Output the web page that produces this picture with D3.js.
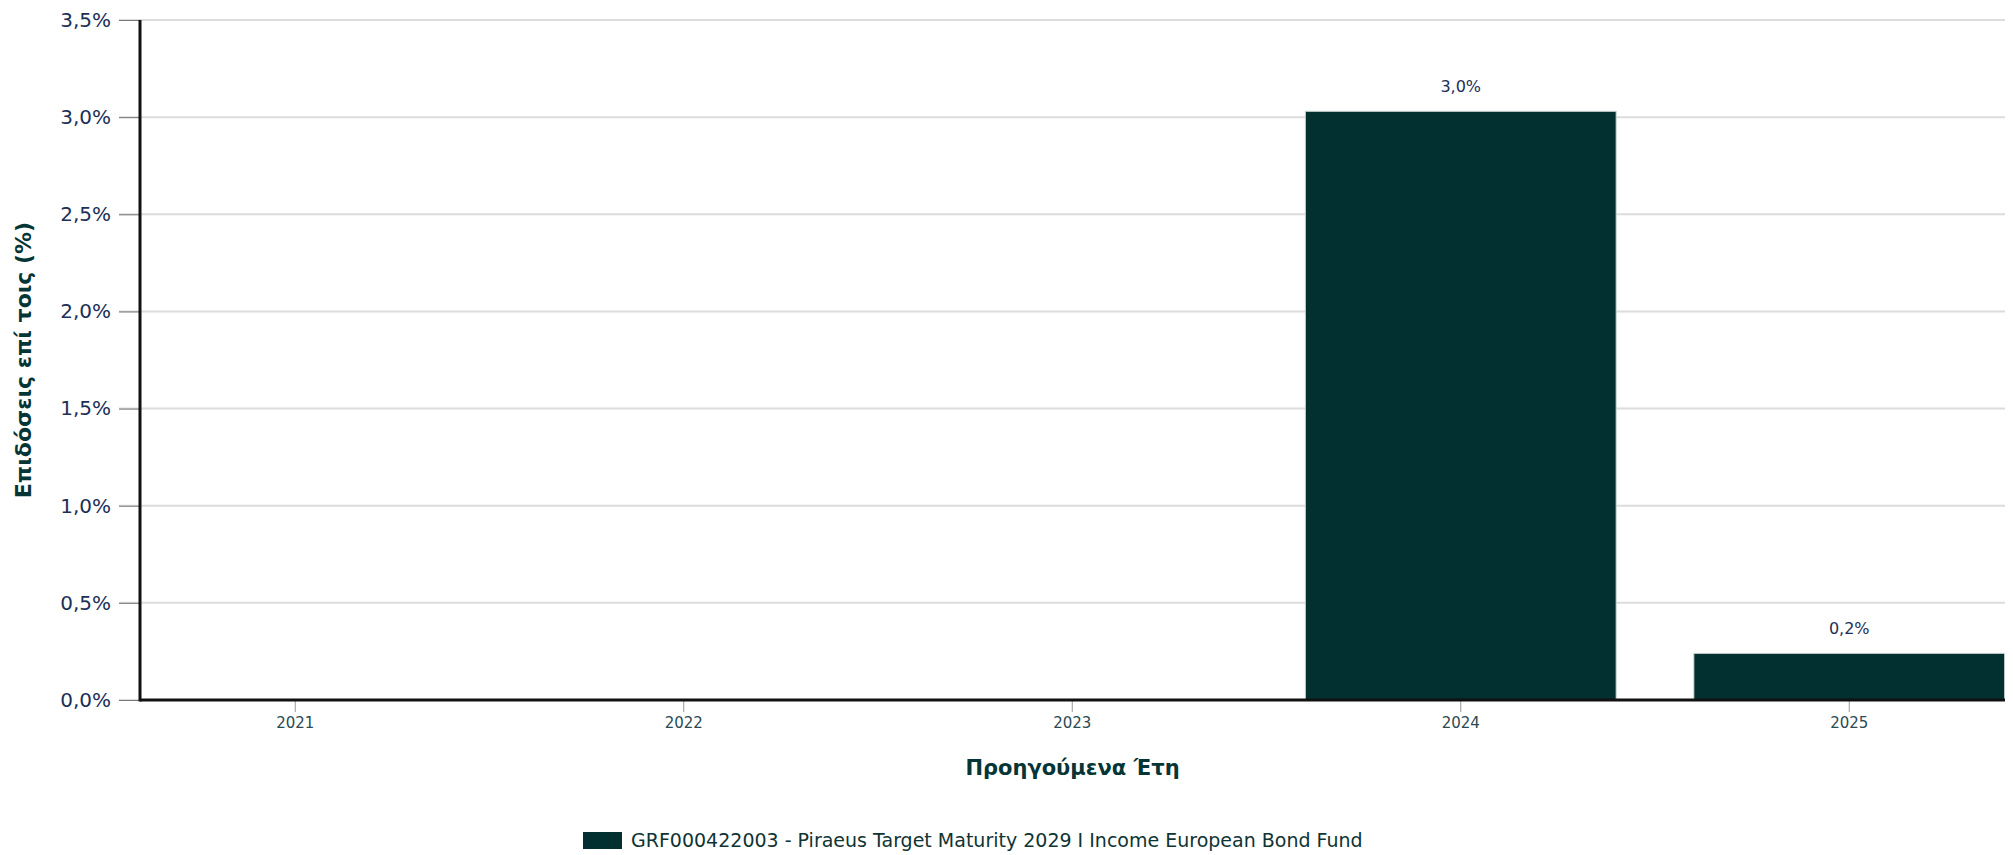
<!DOCTYPE html>
<html>
<head>
<meta charset="utf-8">
<script src="https://cdn.jsdelivr.net/npm/d3@7"></script>
<style>
  body { margin: 0; background: #fff; }
  svg { display: block; font-family: "DejaVu Sans", Verdana, sans-serif; }
</style>
</head>
<body>
<div id="chart"></div>
<script>
(function () {

  /***** Data *****/
  var years = ["2021", "2022", "2023", "2024", "2025"]
  var returns = [null, null, null, 3.03, 0.24]
  var yTicks = [0, 0.5, 1, 1.5, 2, 2.5, 3, 3.5]
  var seriesName = "GRF000422003 - Piraeus Target Maturity 2029 I Income European Bond Fund"
  var yTitle = "Επιδόσεις επί τοις (%)"
  var xTitle = "Προηγούμενα Έτη"

  /***** Configuration *****/
  var width = 2013
  var height = 855
  var plot = { left: 140, right: 2005, top: 20, bottom: 700 }
  var barColor = "#023030"
  var fmt = v => d3.format(".1f")(v).replace(".", ",") + "%"

  var data = years.map((y, i) => ({ year: y, value: returns[i] }))

  var svg = d3.select("#chart")
    .append("svg")
    .attr("width", width)
    .attr("height", height)

  // bands run past the right edge of the plot and get clipped
  var x = d3.scaleBand()
    .domain(years)
    .range([101, 101 + 5 * 388.5])
    .paddingInner(0.2)
    .paddingOuter(0.1)

  var y = d3.scaleLinear()
    .domain([0, 3.5])
    .range([plot.bottom, plot.top])

  svg.append("clipPath").attr("id", "plot-clip")
    .append("rect")
    .attr("x", plot.left)
    .attr("y", 0)
    .attr("width", plot.right - plot.left)
    .attr("height", plot.bottom + 2)

  // grid
  svg.append("g")
    .selectAll("line")
    .data(yTicks)
    .join("line")
    .attr("x1", plot.left - 21)
    .attr("x2", plot.right)
    .attr("y1", d => y(d))
    .attr("y2", d => y(d))
    .attr("stroke", "#dcdcdc")
    .attr("stroke-width", 2)

  // y axis
  var yAxis = svg.append("g")
    .attr("transform", "translate(" + plot.left + ",0)")
    .call(d3.axisLeft(y).tickValues(yTicks).tickFormat(fmt).tickSize(21).tickPadding(8))
  yAxis.select(".domain").remove()
  yAxis.selectAll(".tick line").attr("stroke", "#777").attr("stroke-width", 1)
  yAxis.selectAll(".tick text")
    .attr("fill", "#1b2f57")
    .style("font-size", "20px")
    .style("font-family", "DejaVu Sans, sans-serif")

  // bars
  var bars = svg.append("g").attr("clip-path", "url(#plot-clip)")
  bars.selectAll("rect")
    .data(data.filter(d => d.value != null))
    .join("rect")
    .attr("x", d => x(d.year))
    .attr("width", x.bandwidth())
    .attr("y", d => y(d.value))
    .attr("height", d => y(0) - y(d.value))
    .attr("fill", barColor)
    .attr("stroke", "#c9d3d3")
    .attr("stroke-width", 1)

  bars.selectAll("text")
    .data(data.filter(d => d.value != null))
    .join("text")
    .attr("x", d => x(d.year) + x.bandwidth() / 2)
    .attr("y", d => y(d.value) - 19)
    .attr("text-anchor", "middle")
    .attr("fill", "#1b2f57")
    .style("font-size", "16px")
    .text(d => fmt(d.value))

  // x axis
  var xAxis = svg.append("g")
    .attr("transform", "translate(0," + plot.bottom + ")")
    .call(d3.axisBottom(x).tickSize(12).tickPadding(5))
  xAxis.select(".domain").remove()
  xAxis.selectAll(".tick line").attr("stroke", "#999")
  xAxis.selectAll(".tick text")
    .attr("fill", "#2b4a52")
    .style("font-size", "15px")
    .style("font-family", "DejaVu Sans, sans-serif")

  // axis lines
  svg.append("line")
    .attr("x1", plot.left).attr("x2", plot.right)
    .attr("y1", plot.bottom).attr("y2", plot.bottom)
    .attr("stroke", "#111").attr("stroke-width", 3)
  svg.append("line")
    .attr("x1", plot.left).attr("x2", plot.left)
    .attr("y1", plot.top).attr("y2", plot.bottom + 1.5)
    .attr("stroke", "#111").attr("stroke-width", 3)

  // titles
  svg.append("text")
    .attr("x", (plot.left + plot.right) / 2)
    .attr("y", 775)
    .attr("text-anchor", "middle")
    .attr("fill", "#063535")
    .style("font-size", "21px")
    .style("font-weight", "bold")
    .text(xTitle)

  svg.append("text")
    .attr("transform", "translate(31," + (plot.top + plot.bottom) / 2 + ") rotate(-90)")
    .attr("text-anchor", "middle")
    .attr("fill", "#063535")
    .style("font-size", "22px")
    .style("font-weight", "bold")
    .text(yTitle)

  // legend
  var legend = svg.append("g").attr("transform", "translate(583,832)")
  legend.append("rect")
    .attr("width", 39)
    .attr("height", 17)
    .attr("fill", barColor)
  legend.append("text")
    .attr("x", 48)
    .attr("y", 15)
    .attr("fill", "#0f3434")
    .style("font-size", "19px")
    .text(seriesName)

})()
</script>
</body>
</html>
